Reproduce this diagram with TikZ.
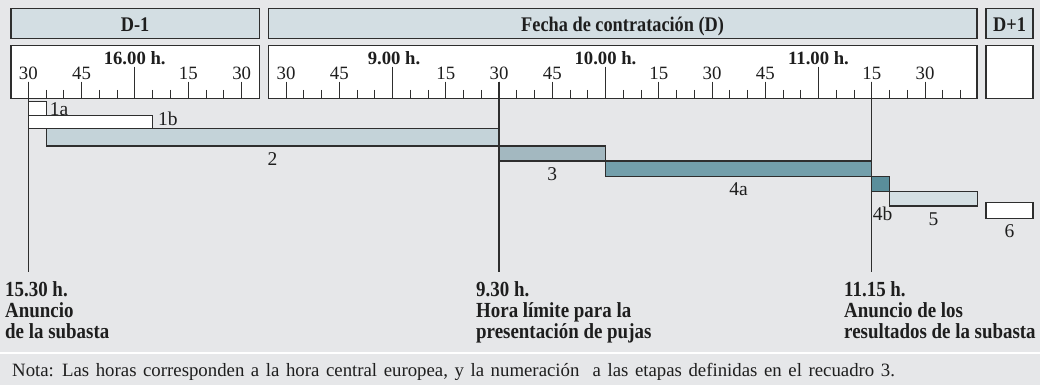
\documentclass[tikz,border=0pt]{standalone}
\usepackage{fontspec}
\setmainfont{Liberation Serif}
\newfontfamily\condbf{Liberation Serif}[FakeStretch=0.88]
\newfontfamily\notafont{Liberation Serif}[WordSpace=1.4]
\definecolor{bg}{HTML}{E6E7E9}
\definecolor{hdrfill}{HTML}{D3DEE3}
\definecolor{frame}{HTML}{2E2E2E}
\definecolor{ink}{HTML}{1E1E1E}
\definecolor{cbartwo}{HTML}{C4D3D9}
\definecolor{cbarthree}{HTML}{A3B8C0}
\definecolor{cbarfoura}{HTML}{739FAB}
\definecolor{cbarfourb}{HTML}{5A8E9B}
\definecolor{cbarfive}{HTML}{D4DFE3}
\tikzset{
 hdr/.style={draw=frame, fill=hdrfill, line width=1.3pt, inner sep=0pt, outer sep=0pt, anchor=north west, text=ink, text height=17pt, text depth=0pt, font=\condbf\bfseries\fontsize{20.8}{21}\selectfont},
 sclbox/.style={draw=frame, fill=white, line width=1.3pt, inner sep=0pt, outer sep=0pt, anchor=north west},
 barbox/.style={draw=frame, line width=1.2pt, inner sep=0pt, outer sep=0pt, anchor=north west},
 tickln/.style={draw=frame, line width=1pt},
 vline/.style={draw=frame, line width=1.1pt},
 numlbl/.style={font=\fontsize{18.8}{19}\selectfont, text=ink, inner sep=0pt, anchor=base},
 hourlbl/.style={font=\bfseries\fontsize{18.7}{19}\selectfont, text=ink, inner sep=0pt, anchor=base},
 barlbl/.style={font=\fontsize{19.5}{20}\selectfont, text=ink, inner sep=0pt},
 evlbl/.style={font=\condbf\bfseries\fontsize{21.5}{21.3}\selectfont, text=ink, inner sep=0pt, anchor=north west, align=left},
 notalbl/.style={font=\notafont\fontsize{18.8}{19}\selectfont, text=ink, inner sep=0pt, anchor=base west},
}
\begin{document}
\begin{tikzpicture}[x=1pt,y=-1pt]
\useasboundingbox (0,0) rectangle (1040,385);
\fill[bg] (0,0) rectangle (1040,385);
\coordinate (sepL) at (0,353);
\coordinate (sepR) at (1040,353);
\draw[white, line width=2.5pt] (sepL) -- (sepR);

% headers
\node[hdr, minimum width=248.3pt, minimum height=30pt] (h1) at (11,8.3) {D-1};
\node[hdr, minimum width=708.7pt, minimum height=30pt] (h2) at (268.3,8.3) {Fecha de contratación (D)};
\node[hdr, minimum width=47pt, minimum height=30pt] (h3) at (986,8.3) {D+1};

% scale boxes
\node[sclbox, minimum width=248.3pt, minimum height=52.6pt] (s1) at (11,45.7) {};
\node[sclbox, minimum width=708.7pt, minimum height=52.6pt] (s2) at (268.3,45.7) {};
\node[sclbox, minimum width=47pt, minimum height=52.6pt] (s3) at (986,45.7) {};

% ticks scale 1 (15.30 .. 16.30)
\foreach \i in {0,...,12}{
  \pgfmathsetmacro\xx{28.3+17.78*\i}
  \pgfmathtruncatemacro\mm{mod(30+5*\i,60)}
  \pgfmathtruncatemacro\qq{mod(\i,3)}
  \ifnum\mm=0
    \draw[tickln] (\xx,66.7) -- (\xx,98.3);
  \else\ifnum\qq=0
    \draw[tickln] (\xx,81.7) -- (\xx,98.3);
    \node[numlbl] (sa\i) at (\xx,80) {\mm};
  \else
    \draw[tickln] (\xx,90) -- (\xx,98.3);
  \fi\fi
}
% ticks scale 2 (8.30 .. 11.40)
\foreach \i in {0,...,38}{
  \pgfmathsetmacro\xx{286+17.75*\i}
  \pgfmathtruncatemacro\mm{mod(30+5*\i,60)}
  \pgfmathtruncatemacro\qq{mod(\i,3)}
  \ifnum\mm=0
    \draw[tickln] (\xx,66.7) -- (\xx,98.3);
  \else\ifnum\qq=0
    \draw[tickln] (\xx,81.7) -- (\xx,98.3);
    \node[numlbl] (sb\i) at (\xx,80) {\mm};
  \else
    \draw[tickln] (\xx,90) -- (\xx,98.3);
  \fi\fi
}
\node[hourlbl] (hr16) at (134.7,64.3) {16.00 h.};
\node[hourlbl] (hr9) at (394,64.3) {9.00 h.};
\node[hourlbl] (hr10) at (605.5,64.3) {10.00 h.};
\node[hourlbl] (hr11) at (818.5,64.3) {11.00 h.};

% event lines
\coordinate (vAtop) at (28.3,81.7);  \coordinate (vAbot) at (28.3,271.7);
\coordinate (vBtop) at (499,81.7);   \coordinate (vBbot) at (499,271.7);
\coordinate (vCtop) at (871.75,81.7); \coordinate (vCbot) at (871.75,271.7);
\draw[vline] (vAtop) -- (vAbot);
\draw[vline] (vBtop) -- (vBbot);
\draw[vline] (vCtop) -- (vCbot);

% bars
\node[barbox, fill=white, minimum width=17.8pt, minimum height=14pt] (b1a) at (28.3,101.7) {};
\node[barbox, fill=white, minimum width=124.5pt, minimum height=12.6pt] (b1b) at (28.3,115.7) {};
\node[barbox, fill=cbartwo, minimum width=452.9pt, minimum height=17.7pt] (b2) at (46.1,128.3) {};
\node[barbox, fill=cbarthree, minimum width=106.5pt, minimum height=15pt] (b3) at (499,146) {};
\node[barbox, fill=cbarfoura, minimum width=266.25pt, minimum height=15.3pt] (b4a) at (605.5,161) {};
\node[barbox, fill=cbarfourb, minimum width=17.75pt, minimum height=15pt] (b4b) at (871.75,176.3) {};
\node[barbox, fill=cbarfive, minimum width=88pt, minimum height=14.7pt] (b5) at (889.5,191.3) {};
\node[barbox, fill=white, minimum width=47pt, minimum height=15.6pt] (b6) at (986,202.7) {};

% bar labels
\node[barlbl, anchor=west] (l1a) at ([xshift=3.5pt]b1a.east) {1a};
\node[barlbl, anchor=west] (l1b) at ([xshift=5pt,yshift=3pt]b1b.east) {1b};
\node[barlbl, anchor=base] (l2) at ([yshift=-19pt]b2.south) {2};
\node[barlbl, anchor=base] (l3) at ([yshift=-19pt]b3.south) {3};
\node[barlbl, anchor=base] (l4a) at ([yshift=-19pt]b4a.south) {4a};
\node[barlbl, anchor=base west] (l4b) at ([xshift=1pt,yshift=-29.2pt]b4b.south west) {4b};
\node[barlbl, anchor=base] (l5) at ([yshift=-19pt]b5.south) {5};
\node[barlbl, anchor=base] (l6) at ([yshift=-19pt]b6.south) {6};

% event labels
\node[evlbl] (evA) at (5,281) {15.30 h.\\Anuncio\\de la subasta};
\node[evlbl] (evB) at (476,281) {9.30 h.\\Hora límite para la\\presentación de pujas};
\node[evlbl] (evC) at (844,281) {11.15 h.\\Anuncio de los\\resultados de la subasta};

% note
\node[notalbl] (nota) at (12,376) {Nota: Las horas corresponden a la hora central europea, y la numeración\ \ a las etapas definidas en el recuadro 3.};
\end{tikzpicture}
\end{document}
